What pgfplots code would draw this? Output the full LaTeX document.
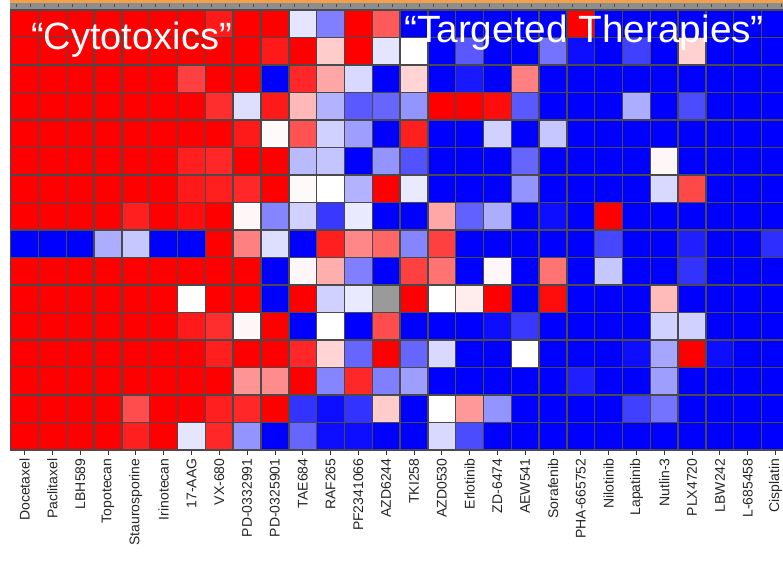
\documentclass[border=0pt]{standalone}
\usepackage{fontspec}
\setmainfont{Liberation Sans}
\usepackage{pgfplots}
\usepackage{pgfplotstable}
\pgfplotsset{compat=1.18}
\definecolor{gridc}{HTML}{4A4A4A}
\definecolor{topor}{HTML}{F2A04C}
\definecolor{topgr}{HTML}{8E8E8E}
\definecolor{nanc}{HTML}{9A9A9A}

\pgfplotstableread{
c1 c2 c3 c4 c5 c6 c7 c8 c9 c10 c11 c12 c13 c14 c15 c16 c17 c18 c19 c20 c21 c22 c23 c24 c25 c26 c27 c28
1 1 1 1 1 1 1 0.9 1 1 -0.1 -0.5 1 0.65 -1 -1 -1 -1 -1 -1 1 -1 -1 -1 -1 -1 -1 -1
1 1 1 1 1 1 1 1 1 0.9 1 0.2 1 -0.1 0.0 -1 -0.65 -1 -1 -0.55 -0.95 -1 -0.75 -1 0.18 -1 -1 -1
1 1 1 1 1 1 0.75 1 1 -1 0.85 0.35 -0.15 -1 0.17 -1 -0.9 -1 0.5 -1 -1 -1 -1 -1 -1 -1 -1 -1
1 1 1 1 1 1 1 0.82 -0.13 0.9 0.28 -0.3 -0.65 -0.6 -0.42 1 1 0.95 -0.65 -1 -1 -1 -0.32 -1 -0.7 -1 -1 -1
1 1 1 1 1 1 1 1 0.9 0.02 0.68 -0.18 -0.38 -1 0.88 -1 -1 -0.18 -1 -0.22 -1 -1 -1 -1 -1 -1 -1 -1
1 1 1 1 1 1 0.88 0.85 1 1 -0.27 -0.23 -1 -0.42 -0.68 -1 -1 -1 -0.6 -1 -1 -1 -1 0.03 -1 -1 -1 -1
1 1 1 1 1 1 0.9 0.88 0.85 1 0.02 0.0 -0.3 1 -0.08 -1 -1 -1 -0.42 -1 -1 -1 -1 -0.15 0.72 -1 -1 -1
1 1 1 1 0.88 1 0.95 1 0.03 -0.48 -0.18 -0.78 -0.08 -1 -1 0.35 -0.62 -0.32 -1 -0.95 -1 1 -1 -1 -1 -1 -1 -1
-1 -1 -1 -0.32 -0.22 -1 -1 1 0.5 -0.13 -1 0.88 0.47 0.6 -0.48 0.75 -1 -1 -1 -1 -1 -0.72 -1 -1 -0.88 -1 -1 -0.82
1 1 1 1 1 1 1 1 1 -1 0.03 0.32 -0.5 -1 0.75 0.55 -1 0.03 -1 0.55 -1 -0.22 -1 -1 -0.8 -1 -1 -1
1 1 1 1 1 1 0.0 1 1 -1 1 -0.18 -0.08 0 1 0.0 0.07 1 -1 0.95 -1 -1 -1 0.27 -1 -1 -1 -1
1 1 1 1 1 1 0.9 0.82 0.03 1 -1 0.0 -1 0.7 -1 -1 -1 -0.95 -0.78 -1 -1 -1 -1 -0.18 -0.18 -1 -1 -1
1 1 1 1 1 1 1 0.88 1 1 0.85 0.17 -0.6 1 -0.6 -0.15 -1 -1 0.0 -1 -1 -1 -0.95 -0.35 1 -0.95 -1 -1
1 1 1 1 1 1 1 1 0.42 0.45 1 -0.48 0.85 -0.5 -0.38 -1 -1 -1 -1 -1 -0.88 -1 -1 -0.38 -1 -1 -1 -1
1 1 1 1 0.7 1 1 0.88 0.85 1 -0.8 -0.95 -0.8 0.2 -1 0.0 0.4 -0.42 -1 -1 -1 -1 -0.75 -0.55 -1 -1 -1 -1
1 1 1 1 0.88 1 -0.1 0.85 -0.42 -1 -0.6 -0.95 -0.95 -1 -1 -0.15 -0.7 -1 -1 -1 -1 -1 -1 -1 -1 -1 -1 -1
}\heat

\begin{document}
\begin{tikzpicture}
\path[use as bounding box, clip] (0pt,0pt) rectangle (783pt,570pt);
\fill[white] (0pt,0pt) rectangle (783pt,570pt);
\fill[topor] (10pt,567pt) rectangle (783pt,570pt);
\fill[topgr] (10pt,560pt) rectangle (783pt,567pt);
\foreach \k in {0,...,55} \draw[black!70, line width=0.8pt] ({16.7pt+13.9pt*\k},565.5pt) -- ++(0pt,-3pt);
\begin{axis}[
  at={(10.7pt,120pt)}, anchor=south west,
  scale only axis, width=778.7pt, height=440pt,
  xmin=0.5, xmax=28.5, ymin=0.5, ymax=16.5,
  clip=false,
  axis line style={draw=none},
  ytick=\empty,
  xtick={1,...,28},
  xticklabels={Docetaxel,Paclitaxel,LBH589,Topotecan,Staurosporine,Irinotecan,17-AAG,VX-680,PD-0332991,PD-0325901,TAE684,RAF265,PF2341066,AZD6244,TKI258,AZD0530,Erlotinib,ZD-6474,AEW541,Sorafenib,PHA-665752,Nilotinib,Lapatinib,Nutlin-3,PLX4720,LBW242,L-685458,Cisplatin},
  xtick pos=bottom, tick align=outside, major tick length=5pt,
  tick style={black!80, line width=0.8pt},
  xticklabel style={font=\fontsize{14}{14}\selectfont, rotate=90, anchor=east, text=black!85},
  colormap={bwr}{rgb255=(0,0,255) rgb255=(255,255,255) rgb255=(255,0,0)},
  point meta min=-1, point meta max=1,
]
\pgfplotsinvokeforeach{1,...,28}{
\addplot[scatter, only marks, mark=square*, mark size=13.9pt, line width=1.4pt,
  point meta=explicit, scatter/use mapped color={draw=gridc, fill=mapped color}]
  table[x expr=#1, y expr=16-\coordindex, meta=c#1]{\heat};
}
\addplot[only marks, mark=square*, mark size=13.9pt, line width=1.4pt, draw=gridc, fill=nanc] coordinates {(14,6)};
\end{axis}
\node[anchor=base west, inner sep=0, text=white, font=\fontsize{38}{38}\selectfont] at (31pt,520pt) {“Cytotoxics”};
\node[anchor=base west, inner sep=0, text=white, font=\fontsize{38}{38}\selectfont] at (404pt,527.5pt) {\scalebox{1.02}[1]{“Targeted Therapies”}};
\end{tikzpicture}
\end{document}
